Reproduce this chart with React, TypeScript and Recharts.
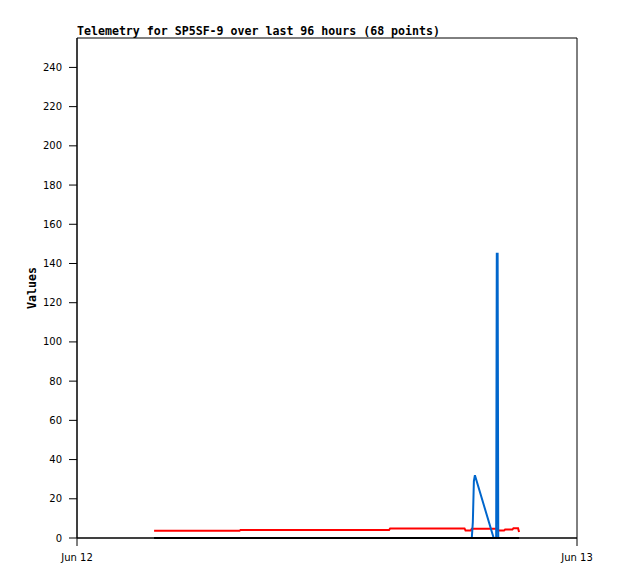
import { LineChart, Line, XAxis, YAxis, ReferenceArea } from 'recharts';

// hours since Jun 12 00:00
const hours = [3.7, 7.8, 7.85, 14.98, 15.03, 18.6, 18.65, 18.9, 18.95, 19.0, 19.05, 19.1, 20.0, 20.05, 20.12, 20.15, 20.19, 20.22, 20.5, 20.55, 20.9, 20.95, 21.17, 21.22];
const redValues = [3.7, 3.7, 4.1, 4.1, 4.9, 4.9, 3.8, 3.8, 4.7, 4.7, 4.7, 4.7, 4.7, 4.7, 4.7, 4.7, 4.7, 3.8, 3.8, 4.3, 4.3, 5.0, 5.0, 3.0];
const blueValues = [0, 0, 0, 0, 0, 0, 0, 0, 0, 8, 29, 32, 0, 0, 0, 145, 145, 0, 0, 0, 0, 0, 0, 0];
const blackValues = [0, 0, 0, 0, 0, 0, 0, 0, 0, 0, 0, 0, 0, 0, 0, 0, 0, 0, 0, 0, 0, 0, 0, 0];

const xTicks = [0, 24];
const xTickLabels = ['Jun 12', 'Jun 13'];
const yTicks = [0, 20, 40, 60, 80, 100, 120, 140, 160, 180, 200, 220, 240];

const data = hours.map((t, i) => ({
  t,
  red: redValues[i],
  blue: blueValues[i],
  black: blackValues[i],
}));

const tickStyle = { fontSize: 10, fill: '#000', fontFamily: 'DejaVu Sans' };
const monoBold = { fontFamily: 'DejaVu Sans Mono', fontWeight: 'bold' as const, fontSize: 11.6, color: '#000' };

export default function App() {
  return (
    <div style={{ position: 'absolute', left: 0, top: 0, width: 618, height: 579, background: '#fff' }}>
      <div style={{ ...monoBold, position: 'absolute', left: 77, top: 24, whiteSpace: 'nowrap', lineHeight: '14px' }}>
        Telemetry for SP5SF-9 over last 96 hours (68 points)
      </div>
      <div
        style={{
          ...monoBold,
          position: 'absolute',
          left: 32,
          top: 288,
          transform: 'translate(-50%, -50%) rotate(-90deg)',
          whiteSpace: 'nowrap',
          lineHeight: '14px',
        }}
      >
        Values
      </div>
      <LineChart width={618} height={579} data={data} margin={{ top: 38, right: 41, left: 0, bottom: 11 }}>
        <XAxis
          dataKey="t"
          type="number"
          domain={[0, 24]}
          ticks={xTicks}
          tickFormatter={(v) => xTickLabels[xTicks.indexOf(v)] ?? ''}
          height={30}
          tick={tickStyle}
          tickSize={8}
          tickMargin={8}
          stroke="#000"
          interval={0}
        />
        <YAxis
          type="number"
          domain={[0, 255]}
          ticks={yTicks}
          width={77}
          tick={tickStyle}
          tickSize={8}
          tickMargin={7}
          stroke="#000"
          interval={0}
        />
        <ReferenceArea x1={0} x2={24} y1={0} y2={255} fill="none" stroke="#000" strokeWidth={1} />
        <Line type="linear" dataKey="red" stroke="#ff0000" strokeWidth={2} dot={false} isAnimationActive={false} />
        <Line type="linear" dataKey="blue" stroke="#0066cc" strokeWidth={2} dot={false} isAnimationActive={false} />
        <Line type="linear" dataKey="black" stroke="#000000" strokeWidth={2} dot={false} isAnimationActive={false} />
      </LineChart>
    </div>
  );
}
